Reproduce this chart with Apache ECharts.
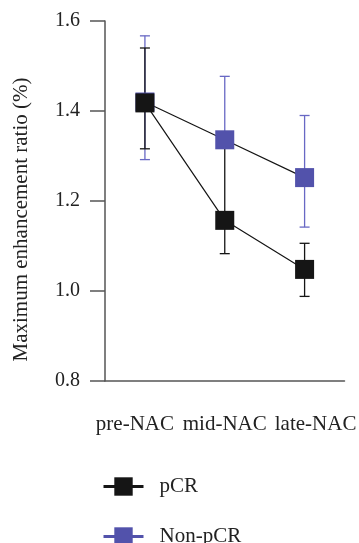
<!DOCTYPE html>
<html>
<head>
<meta charset="utf-8">
<script src="https://cdn.jsdelivr.net/npm/echarts@6/dist/echarts.min.js"></script>
<style>
  html, body { margin: 0; padding: 0; background: #fff; }
  #chart { width: 359px; height: 543px; }
</style>
</head>
<body>
<div id="chart"></div>
<script>
const categories = ['pre-NAC', 'mid-NAC', 'late-NAC']
const yTicks = [0.8, 1.0, 1.2, 1.4, 1.6]

const pcrMean = [1.418, 1.157, 1.048]
const pcrLow = [1.316, 1.083, 0.988]
const pcrHigh = [1.540, 1.335, 1.106]

const nonMean = [1.420, 1.336, 1.252]
const nonLow = [1.292, 1.320, 1.142]
const nonHigh = [1.567, 1.477, 1.390]

const BLACK = '#151515'
const BLUE = '#5252ab'
const BLUE_BAR = '#6868c4'
const FONT = '"Liberation Serif", "DejaVu Serif", serif'

// 误差棒：竖线 + 上下横帽
function errorSeries(low, high, color, z) {
  return {
    type: 'custom',
    z,
    silent: true,
    data: categories.map((c, i) => [i, low[i], high[i]]),
    renderItem: (params, api) => {
      const lo = api.coord([api.value(0), api.value(1)])
      const hi = api.coord([api.value(0), api.value(2)])
      const cap = 5
      const style = { stroke: color, lineWidth: 1.3 }
      return {
        type: 'group',
        children: [
          { type: 'line', shape: { x1: lo[0], y1: lo[1], x2: hi[0], y2: hi[1] }, style },
          { type: 'line', shape: { x1: hi[0] - cap, y1: hi[1], x2: hi[0] + cap, y2: hi[1] }, style },
          { type: 'line', shape: { x1: lo[0] - cap, y1: lo[1], x2: lo[0] + cap, y2: lo[1] }, style },
        ],
      }
    },
  }
}

// 图例每项单独一个，竖排
function legendItem(name, color, top) {
  return {
    left: 97,
    top,
    itemWidth: 40,
    itemHeight: 23,
    textStyle: { fontFamily: FONT, fontSize: 21, color: '#222', padding: [0, 0, 0, 11] },
    data: [{ name, lineStyle: { color, width: 3 } }],
  }
}

const chart = echarts.init(document.getElementById('chart'))
chart.setOption({
  animation: false,
  textStyle: { fontFamily: FONT },
  grid: { left: 105, right: 12, top: 21, bottom: 162, containLabel: false },
  legend: [legendItem('pCR', BLACK, 471), legendItem('Non-pCR', BLUE, 521)],
  xAxis: {
    type: 'category',
    data: categories,
    boundaryGap: true,
    axisLine: { lineStyle: { color: '#555', width: 1.5 } },
    axisTick: { alignWithLabel: true, length: 13, lineStyle: { color: '#555', width: 1.5 } },
    axisLabel: {
      interval: 0,
      margin: 33,
      color: '#222',
      fontFamily: FONT,
      fontSize: 21,
      formatter: (v, i) => `{c${i}|${v}}`,
      rich: {
        c0: { fontFamily: FONT, fontSize: 21, color: '#222', padding: [0, 20, 0, 0] },
        c1: { fontFamily: FONT, fontSize: 21, color: '#222' },
        c2: { fontFamily: FONT, fontSize: 21, color: '#222', padding: [0, 0, 0, 22] },
      },
    },
  },
  yAxis: {
    type: 'value',
    min: yTicks[0],
    max: yTicks[yTicks.length - 1],
    interval: 0.2,
    name: 'Maximum enhancement ratio (%)',
    nameLocation: 'middle',
    nameGap: 73,
    nameTextStyle: { fontFamily: FONT, fontSize: 21, color: '#222', padding: [0, 37, 0, 0] },
    splitLine: { show: false },
    axisLine: { show: true, lineStyle: { color: '#555', width: 1.5 } },
    axisTick: { show: true, length: 15, lineStyle: { color: '#555', width: 1.5 } },
    axisLabel: {
      margin: 25,
      color: '#222',
      fontFamily: FONT,
      fontSize: 20,
      formatter: (v) => v.toFixed(1),
    },
  },
  series: [
    errorSeries(nonLow, nonHigh, BLUE_BAR, 1),
    errorSeries(pcrLow, pcrHigh, BLACK, 2),
    {
      name: 'Non-pCR',
      type: 'line',
      z: 3,
      data: nonMean,
      symbol: 'rect',
      symbolSize: 19,
      lineStyle: { color: BLACK, width: 1.2 },
      itemStyle: { color: BLUE },
    },
    {
      name: 'pCR',
      type: 'line',
      z: 4,
      data: pcrMean,
      symbol: 'rect',
      symbolSize: 19,
      lineStyle: { color: BLACK, width: 1.2 },
      itemStyle: { color: BLACK },
    },
  ],
})
</script>
</body>
</html>
